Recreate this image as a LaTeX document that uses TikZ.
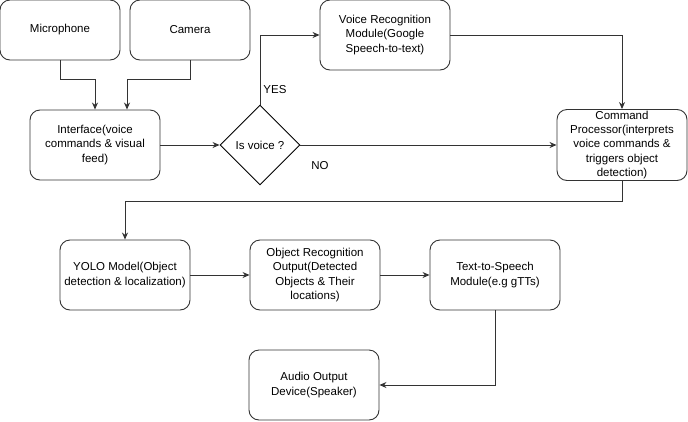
\documentclass[tikz,border=0pt]{standalone}
\usepackage{fontspec}
\setmainfont{Liberation Sans}
\usepackage{tikz}
\usetikzlibrary{shapes.geometric}
\usetikzlibrary{arrows, arrows.meta}

\begin{document}
\begin{tikzpicture}[x=1pt, y=-1pt,
        box/.style = {rectangle, rounded corners=10pt, draw=black!80, line width=0.9pt,
            minimum width=130pt, minimum height=70pt, inner sep=0pt, align=center,
            font=\fontsize{11.5}{14.3}\selectfont},
        arr/.style = {line width=0.9pt, draw=black!80, -{Stealth[length=7pt,width=6pt]}}]
        \useasboundingbox (0,0) rectangle (688,421);
        % sources
        \node[box, minimum width = 120pt, minimum height = 60pt] (mic) at (60,30) {Microphone};
        \node[box, minimum width = 120pt, minimum height = 60pt] (cam) at (190,30) {Camera};
        \node[box] (iface) at (95,145) {Interface(voice\\commands \& visual\\feed)};
        \node[
            diamond,
            draw=black,
            line width=0.9pt,
            minimum width = 80pt,
            minimum height = 80pt,
            inner sep = 0pt,
            font=\fontsize{11.5}{14}\selectfont] (isvoice) at (260,145) {Is voice ?};
        \node[box] (vrm) at (385,35) {Voice Recognition\\Module(Google\\Speech-to-text)};
        \node[box, minimum height = 71pt] (cmdproc) at (622,145) {Command\\Processor(interprets\\voice commands \&\\triggers object\\detection)};
        % detection chain
        \node[box] (yolo) at (125,275) {YOLO Model(Object\\detection \& localization)};
        \node[box] (objrec) at (315,275) {Object Recognition\\Output(Detected\\Objects \& Their\\locations)};
        \node[box] (tts) at (495,275) {Text-to-Speech\\Module(e.g gTTs)};
        \node[box] (audio) at (314,385) {Audio Output\\Device(Speaker)};
        % labels
        \node[font=\fontsize{11.5}{14}\selectfont] (yes) at (275,90) {YES};
        \node[font=\fontsize{11.5}{14}\selectfont] (no) at (320,166) {NO};
        % connectors
        \draw[arr] (mic.south) -- ++(0,19) -| (iface.north);
        \draw[arr] (cam.south) -- ++(0,19) -| ([xshift=32pt]iface.north);
        \draw[arr] (iface.east) -- (isvoice.west);
        \draw[arr] (isvoice.north) |- (vrm.west);
        \draw[arr] (isvoice.east) -- (cmdproc.west);
        \draw[arr] (vrm.east) -| (cmdproc.north);
        \draw[arr] (cmdproc.south) -- ++(0,20) -| (yolo.north);
        \draw[arr] (yolo.east) -- (objrec.west);
        \draw[arr] (objrec.east) -- (tts.west);
        \draw[arr] (tts.south) |- (audio.east);
\end{tikzpicture}
\end{document}
